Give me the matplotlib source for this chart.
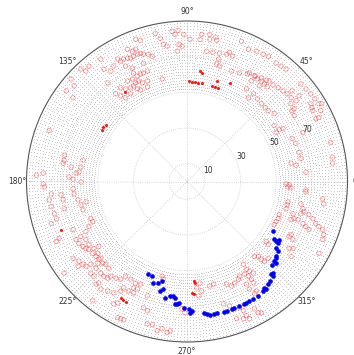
import numpy as np
import matplotlib
matplotlib.use('Agg')
import matplotlib.pyplot as plt

# red open circles (azimuth in degrees, zenith-like radius)
red_theta = [93.4, 91.2, 88.8, 84.8, 80.9, 84.2, 81.2, 78.7, 78.1, 93.3, 92.1, 94.3,
             81.4, 78.7, 75.7, 72.7, 71.8, 70.0, 68.8, 65.1, 62.0, 59.1, 57.0, 75.5, 75.8, 74.2,
             68.0, 64.2, 60.7, 57.1, 54.3, 52.0, 60.1, 57.4, 55.6, 53.5, 51.6, 49.7, 57.4, 52.9,
             50.7, 48.3, 57.3, 53.7, 52.9, 49.6, 46.3, 43.3, 41.1, 53.0, 50.8, 48.6,
             45.8, 43.3, 41.2, 38.8, 36.5, 40.8, 37.4, 36.8, 34.2, 31.6,
             40.6, 37.9, 35.3, 32.9, 30.5, 27.9, 25.9, 32.1, 29.4, 32.7, 28.8, 28.9,
             19.3, 14.6, 11.5, 8.5, 10.0, 22.9, 15.2, 9.5, 7.2,
             37.9, 29.4, 22.3, 4.5, -1.9, -3.5, -4.1, 26.0, 30.6, 30.0, 34.0,
             109.9, 108.3, 102.1, 100.6, 95.7, 94.6,
             125.2, 126.5, 124.6, 122.4, 119.5, 118.9, 117.4, 115.7, 114.6, 113.1, 111.3, 110.0,
             108.9, 106.9, 105.5, 112.7, 111.3, 114.2, 115.7, 118.0, 110.2, 103.6,
             116.3, 115.2, 113.4, 111.9, 109.7, 120.6, 118.0, 117.6, 115.8, 114.3, 111.5,
             125.3, 123.6, 121.1, 119.2, 129.1, 127.8, 126.3, 122.8, 118.1, 116.9, 112.7,
             133.3, 132.5, 130.4, 138.5, 139.7, 143.1, 128.8, 143.7, 159.7,
             167.9, 170.2, 171.6, 168.4, 172.3, 175.0, 175.7, 172.9, 99.8, 98.3, 176.6, 177.6,
             181.0, 182.2, 178.8, 180.3, 177.8, 183.7, 186.3, 189.5, 192.4, 195.2,
             186.1, 188.4, 192.5, 185.2, 187.6, 190.5, 193.6, 195.9, 197.2, 191.4,
             201.1, 203.1, 204.7, 206.3, 204.0, 204.6, 202.9,
             207.6, 209.8, 212.0, 213.5, 214.7, 217.3, 219.4, 221.4, 224.1,
             207.4, 209.8, 212.7, 215.7, 218.9, 221.7, 225.5, 227.9,
             216.4, 218.5, 220.0, 220.7, 223.6, 226.8, 228.7, 230.6,
             214.0, 216.7, 223.6, 225.5, 229.0, 231.3, 228.4, 234.1, 236.7, 238.8,
             216.4, 222.5, 217.9, 237.0, 240.0, 243.1, 245.6, 240.3, 239.1, 231.7,
             243.0, 244.2, 245.4, 254.4, 256.4, 258.7, 260.4, 262.5, 263.6,
             255.3, 256.3, 250.9, 243.3, 245.3, 231.1, 233.6, 235.8, 239.2, 241.9, 244.4,
             251.0, 253.0,
             358.6, 356.9, 355.0, 352.7, 350.7, 348.6, 346.9, 344.6, 348.9, 346.8, 345.5, 344.2,
             343.1, 340.9, 341.0, 339.9, 340.2, 337.8, 335.8, 333.7,
             344.8, 343.5, 341.9, 341.1, 340.5, 338.8, 336.9, 340.0, 339.2, 338.5,
             331.7, 331.3, 333.0, 326.8, 327.8, 324.3, 331.4, 322.9, 322.2,
             313.6, 313.7, 314.1, 316.6, 312.0, 304.3, 304.1, 304.8, 305.9, 303.0, 301.8, 299.0,
             303.4, 303.2, 300.1, 300.1, 302.4, 301.1, 291.1, 293.1, 295.1, 297.8,
             292.6, 293.6, 293.9, 294.5, 289.9, 292.4, 297.9, 298.5, 299.5, 286.7, 288.9,
             277.2, 275.3, 277.7, 275.9, 282.3, 284.6, 269.1, 267.8]
red_r = [84.9, 82.5, 79.7, 80.0, 80.7, 82.9, 83.5, 82.4, 80.9, 77.1, 75.9, 73.3,
         73.9, 73.9, 74.2, 74.8, 76.3, 74.8, 84.3, 81.8, 82.8, 83.2, 83.7, 70.9, 67.9, 67.3,
         66.8, 67.6, 69.2, 70.5, 71.5, 72.2, 70.2, 70.2, 69.7, 70.1, 69.8, 69.6, 67.0, 67.2,
         72.8, 72.6, 61.7, 58.2, 61.7, 60.9, 60.3, 60.3, 60.4, 83.1, 83.5, 84.0,
         73.3, 74.1, 74.6, 74.9, 76.1, 77.8, 79.1, 72.8, 72.6, 70.5,
         84.1, 84.5, 85.1, 85.4, 85.8, 84.9, 82.1, 82.0, 81.0, 58.1, 57.1, 61.5,
         64.7, 64.9, 65.2, 61.8, 59.2, 70.6, 83.5, 82.8, 82.3,
         62.0, 59.3, 63.7, 66.9, 57.3, 58.4, 66.8, 80.4, 81.3, 87.2, 71.0,
         84.8, 83.4, 84.9, 81.7, 84.6, 82.8,
         83.9, 78.4, 75.3, 76.7, 78.9, 77.1, 77.3, 76.8, 76.1, 76.4, 76.6, 76.5,
         75.5, 74.6, 72.9, 79.2, 79.6, 81.3, 70.6, 73.3, 70.7, 59.2,
         67.8, 65.4, 65.7, 65.6, 65.8, 65.5, 65.1, 62.4, 62.6, 60.7, 60.6,
         64.4, 62.3, 61.3, 61.4, 63.4, 60.8, 58.2, 58.5, 58.9, 57.6, 57.5,
         86.7, 84.0, 84.9, 86.8, 83.0, 84.7, 70.9, 79.3, 82.4,
         70.4, 69.9, 70.2, 59.5, 60.0, 60.8, 62.4, 65.5, 78.1, 76.7, 80.7, 84.5,
         80.6, 80.1, 63.9, 59.4, 66.2, 64.0, 63.7, 62.0, 60.9, 60.4,
         71.0, 70.2, 70.6, 76.4, 77.9, 77.4, 76.6, 76.2, 79.7, 57.8,
         57.8, 57.4, 60.5, 63.2, 78.5, 80.7, 69.3,
         70.2, 69.8, 68.8, 68.0, 66.9, 66.4, 66.1, 65.9, 65.8,
         67.0, 65.3, 65.3, 64.3, 64.2, 64.7, 65.0, 65.5,
         75.3, 74.5, 73.9, 71.1, 70.5, 70.5, 70.7, 70.1,
         77.0, 85.9, 74.5, 74.4, 75.4, 77.3, 76.9, 75.8, 74.8, 71.8,
         61.4, 67.8, 77.4, 63.3, 63.2, 63.9, 63.2, 78.4, 80.0, 85.2,
         85.7, 85.5, 85.3, 82.8, 82.6, 85.3, 83.7, 85.4, 84.2,
         54.8, 56.3, 67.9, 66.8, 66.4, 68.2, 67.3, 66.2, 69.5, 69.6, 69.3,
         74.9, 75.8,
         55.6, 56.7, 66.9, 76.7, 77.7, 57.8, 57.6, 57.6, 65.1, 66.8, 67.7, 66.4,
         62.1, 63.5, 65.8, 62.1, 54.9, 55.2, 54.8, 54.5,
         70.8, 73.6, 76.0, 78.1, 80.7, 82.2, 82.8, 69.2, 71.3, 73.5,
         65.0, 67.7, 65.5, 68.4, 70.3, 71.9, 84.2, 55.7, 57.6,
         58.0, 60.3, 62.3, 62.7, 56.5, 56.2, 59.4, 61.3, 63.4, 63.3, 61.1, 60.7,
         65.6, 68.0, 66.5, 69.7, 72.7, 73.5, 61.7, 63.7, 62.9, 61.9,
         76.7, 79.1, 82.3, 84.5, 81.8, 83.2, 80.8, 83.8, 84.6, 71.6, 73.7,
         57.4, 60.0, 61.9, 64.5, 60.0, 59.4, 73.6, 71.4]

# dark red filled points
dred_theta = [88.9, 87.2, 85.4, 83.7, 81.4, 75.5, 73.7, 71.8, 83.3, 82.2, 66.6, 73.5,
              124.8, 146.9, 145.0, 149.1, 200.9, 241.5, 243.0, 240.3,
              274.0, 274.5, 272.5, 273.5]
dred_r = [56.4, 55.9, 56.0, 55.6, 55.9, 55.4, 55.3, 55.3, 62.4, 61.4, 60.2, 58.8,
          61.3, 56.4, 55.6, 55.7, 75.5, 75.6, 75.8, 75.1,
          56.0, 57.1, 62.6, 63.2]

# blue filled points
blue_theta = [247.4, 249.9, 251.6, 254.2, 256.0, 256.3, 257.5, 259.4, 261.6, 263.1, 264.2, 264.5,
              329.9, 326.4, 326.1, 325.8, 323.1, 322.5, 317.5, 317.5, 315.5, 313.2, 312.3, 312.3,
              308.4, 306.0, 306.4, 304.9, 302.0, 299.5, 297.6, 296.1, 294.8, 292.5, 290.6,
              289.3, 287.0, 285.7, 282.8, 281.4, 279.7, 278.5, 277.3, 272.2, 271.3, 270.9,
              268.7, 266.3, 265.4, 320.0, 310.0, 327.5, 319.5]
blue_r = [56.3, 56.5, 60.0, 59.2, 57.5, 63.2, 61.7, 66.4, 64.9, 64.6, 65.6, 68.9,
          55.9, 58.7, 60.2, 61.8, 62.5, 64.4, 66.3, 67.8, 67.0, 70.5, 70.2, 71.8,
          73.3, 73.8, 74.9, 74.8, 75.6, 75.6, 75.5, 75.8, 75.6, 75.5, 75.7,
          75.6, 75.8, 75.9, 75.5, 75.7, 75.8, 75.0, 74.2, 72.6, 73.6, 71.4,
          70.9, 68.2, 68.8, 65.0, 72.5, 61.0, 66.0]

# background sampling grid
grid_r = np.arange(52, 89, 1.6)
grid_theta = np.arange(0, 360, 1.2)

fig = plt.figure(figsize=(3.54, 3.55), dpi=100)
ax = fig.add_axes([25 / 354, 13 / 355, 324 / 354, 321 / 355], projection='polar')

gt, gr = np.meshgrid(np.radians(grid_theta), grid_r)
ax.scatter(gt.ravel(), gr.ravel(), s=0.3, color='#b4b4b4', linewidths=0, zorder=1)

ax.scatter(np.radians(red_theta), red_r, s=10, facecolors='none', edgecolors='red',
           linewidths=0.6, alpha=0.4, zorder=2)
ax.scatter(np.radians(dred_theta), dred_r, s=5, color='red', linewidths=0, alpha=0.9, zorder=3)
ax.scatter(np.radians(blue_theta), blue_r, s=11, color='blue', linewidths=0, zorder=3)

ax.set_ylim(0, 90)
ax.set_rticks([10, 30, 50, 70])
ax.set_rlabel_position(22.5)
ax.set_thetagrids(np.arange(0, 360, 45))
ax.tick_params(labelsize=5.5, colors='#333333')
ax.tick_params(axis='x', pad=-4)
ax.grid(True, linestyle=':', linewidth=0.6, color='#c8c8c8')
ax.spines['polar'].set_color('#555555')
ax.spines['polar'].set_linewidth(0.8)

plt.savefig('out.png', dpi=100)
